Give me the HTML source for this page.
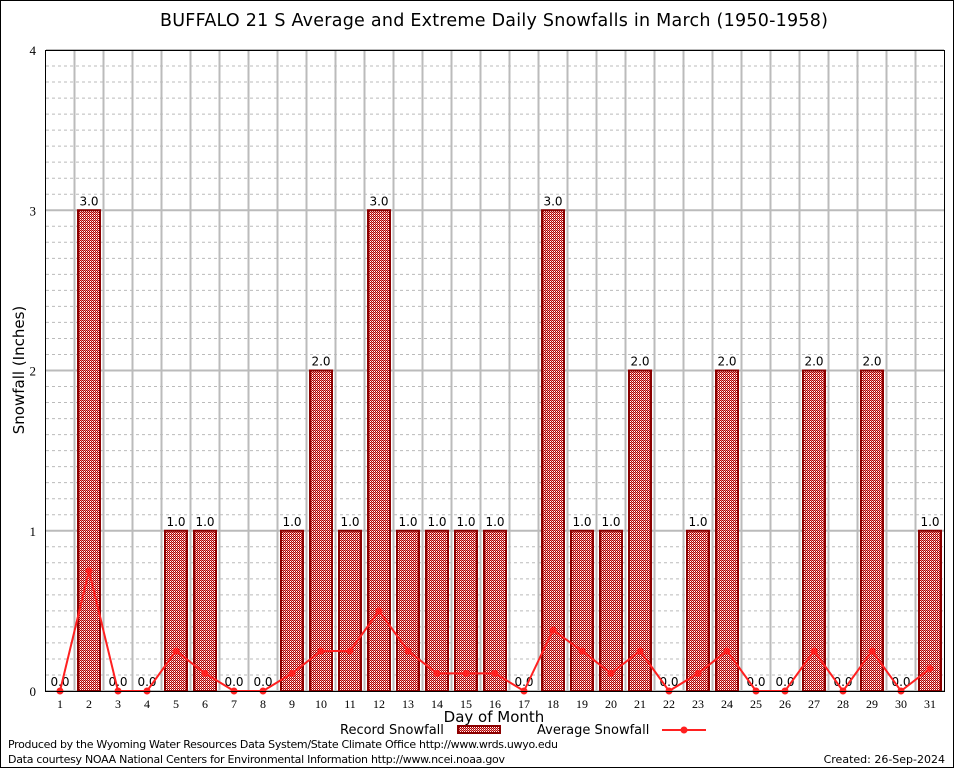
<!DOCTYPE html>
<html><head><meta charset="utf-8"><style>
body{margin:0;background:#fff}
svg{display:block;font-family:"DejaVu Sans","Liberation Sans",sans-serif}
</style></head><body>
<svg id="c" width="954" height="768" viewBox="0 0 954 768">
<defs><pattern id="chk" width="2" height="2" patternUnits="userSpaceOnUse"><rect width="2" height="2" fill="#fff"/><rect width="1" height="1" fill="#b00000"/><rect x="1" y="1" width="1" height="1" fill="#b00000"/><rect x="1" y="0" width="1" height="1" fill="#e08080"/></pattern></defs>
<rect x="0.5" y="0.5" width="953" height="767" fill="#fff" stroke="#000"/>
<text x="494" y="26" font-size="17.5" text-anchor="middle" textLength="668">BUFFALO 21 S Average and Extreme Daily Snowfalls in March (1950-1958)</text>
<g id="grid"></g><g id="bars"></g><g id="labels"></g><g id="line"></g>
<rect x="45.5" y="50.5" width="899" height="641" fill="none" stroke="#000"/>
<text x="24" y="370" font-size="15" text-anchor="middle" transform="rotate(-90 24 370)">Snowfall (Inches)</text>
<text x="494" y="722" font-size="15" text-anchor="middle">Day of Month</text>
<g><text x="340" y="734" font-size="13">Record Snowfall</text><rect x="458" y="726" width="42" height="7" fill="url(#chk)" stroke="#8b0000" stroke-width="2"/></g>
<g><text x="537" y="734" font-size="13">Average Snowfall</text><line x1="662" y1="730" x2="706" y2="730" stroke="#ff2020" stroke-width="2"/><circle cx="684" cy="730" r="3.5" fill="#ff2020"/></g>
<text x="8" y="748" font-size="11" textLength="550">Produced by the Wyoming Water Resources Data System/State Climate Office http://www.wrds.uwyo.edu</text>
<text x="8" y="763" font-size="11" textLength="497">Data courtesy NOAA National Centers for Environmental Information http://www.ncei.noaa.gov</text>
<text x="945" y="763" font-size="11" text-anchor="end">Created:  26-Sep-2024</text>
</svg>
<script>
const days=[1,2,3,4,5,6,7,8,9,10,11,12,13,14,15,16,17,18,19,20,21,22,23,24,25,26,27,28,29,30,31];
const records=[0,3,0,0,1,1,0,0,1,2,1,3,1,1,1,1,0,3,1,1,2,0,1,2,0,0,2,0,2,0,1];
const averages=[0,0.75,0,0,0.25,0.11,0,0,0.11,0.25,0.25,0.5,0.25,0.11,0.11,0.11,0,0.38,0.25,0.11,0.25,0,0.11,0.25,0,0,0.25,0,0.25,0,0.14];
const yTicks=[0,1,2,3,4];
const NS="http://www.w3.org/2000/svg";
const X=d=>60+(d-1)*29, Y=v=>691-v*160.25;
function mk(p,t,a){const e=document.createElementNS(NS,t);for(const k in a)e.setAttribute(k,a[k]);document.getElementById(p).appendChild(e);return e;}
for(let i=1;i<40;i++){if(i%10==0)continue;const y=Y(i/10);
const g=mk('grid','line',{x1:46,x2:944,y1:y,y2:y,stroke:'#bbb','stroke-dasharray':'3,3'});

}
yTicks.forEach(t=>{const y=Y(t);
const g=mk('grid','line',{x1:46,x2:944,y1:y,y2:y,stroke:'#bbb','stroke-width':2});


const l=mk('labels','text',{x:36,y:y+5,'font-size':13,'text-anchor':'end','font-family':'Liberation Serif'});l.textContent=t;

});
days.forEach(d=>{if(d<31){const x=X(d)+14.5;
const g=mk('grid','line',{x1:x,x2:x,y1:51,y2:691,stroke:'#bbb','stroke-width':2});

}
const l=mk('labels','text',{x:X(d),y:708,'font-size':12,'text-anchor':'middle','font-family':'Liberation Serif'});l.textContent=d;

});
records.forEach((v,i)=>{const x=X(days[i]);
if(v>0){const b=mk('bars','rect',{x:x-11,y:Y(v),width:22,height:691-Y(v),fill:'url(#chk)',stroke:'#8b0000','stroke-width':2});

}
const bg=mk('labels','rect',{x:x-12,y:Y(v)-15,width:24,height:12,fill:'#fff'});


const t=mk('labels','text',{x:x,y:Y(v)-5,'font-size':12,'text-anchor':'middle'});t.textContent=v.toFixed(1);

});
const pl=mk('line','polyline',{points:averages.map((v,i)=>X(days[i])+','+Y(v)).join(' '),fill:'none',stroke:'#ff2020','stroke-width':2});


averages.forEach((v,i)=>{const c=mk('line','circle',{cx:X(days[i]),cy:Y(v),r:3.5,fill:'#ff2020'});

});
</script>
</body></html>
